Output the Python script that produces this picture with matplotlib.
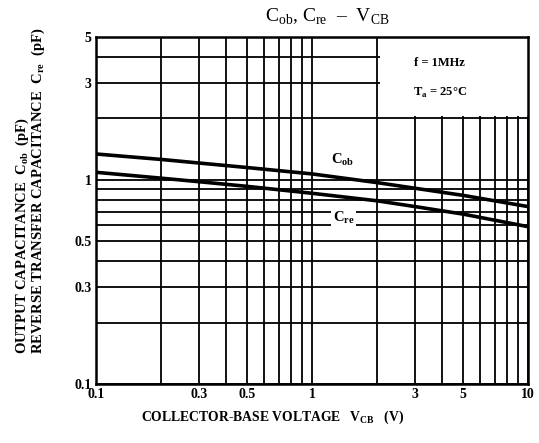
import matplotlib
matplotlib.use("Agg")
import matplotlib.pyplot as plt
from matplotlib.patches import Rectangle

# data
vcb = [0.1, 0.2, 0.3, 0.5, 1, 2, 3, 5, 10]
cob = [1.34, 1.26, 1.21, 1.15, 1.07, 0.97, 0.91, 0.84, 0.74]
cre = [1.09, 1.02, 0.98, 0.93, 0.86, 0.79, 0.74, 0.68, 0.59]

xticks = [0.1, 0.3, 0.5, 1, 3, 5, 10]
xticklabels = ["0.1", "0.3", "0.5", "1", "3", "5", "10"]
yticks = [0.1, 0.3, 0.5, 1, 3, 5]
yticklabels = ["0.1", "0.3", "0.5", "1", "3", "5"]

plt.rcParams["font.family"] = "Liberation Serif"
plt.rcParams["mathtext.fontset"] = "custom"
plt.rcParams["mathtext.rm"] = "Liberation Serif"
plt.rcParams["mathtext.bf"] = "Liberation Serif:bold"

fig = plt.figure(figsize=(5.39, 4.43), dpi=100)
ax = fig.add_axes([0.178, 0.133, 0.802, 0.783])

ax.set_xscale("log")
ax.set_yscale("log")
ax.set_xlim(0.1, 10)
ax.set_ylim(0.1, 5)

ax.set_axisbelow(True)
ax.grid(which="both", color="black", linewidth=1.3)
# blank area for the conditions box
ax.add_patch(Rectangle((2.06, 2.06), 10 - 2.06, 5 - 2.06, facecolor="white",
                       edgecolor="none", zorder=1))

ax.plot(vcb, cob, color="black", linewidth=2.6, zorder=3)
ax.plot(vcb, cre, color="black", linewidth=2.6, zorder=3)

ax.text(1.38, 1.25, r"C$_{\mathbf{ob}}$", fontsize=10.5, fontweight="bold",
        ha="center", va="center", zorder=4)
ax.text(1.4, 0.655, r"C$_{\mathbf{re}}$", fontsize=10.5, fontweight="bold",
        ha="center", va="center", zorder=4,
        bbox=dict(facecolor="white", edgecolor="none", pad=1.5))

ax.text(3.9, 3.75, "f = 1MHz", fontsize=9, fontweight="bold",
        ha="center", va="center")
ax.text(3.9, 2.66, r"T$_{\mathbf{a}}$ = 25°C", fontsize=9, fontweight="bold",
        ha="center", va="center")

ax.set_xticks(xticks)
ax.set_xticklabels(xticklabels)
ax.set_yticks(yticks)
ax.set_yticklabels(yticklabels)
ax.tick_params(which="both", length=0, labelsize=10, pad=3)
for lab in ax.get_xticklabels() + ax.get_yticklabels():
    lab.set_fontweight("bold")
for s in ax.spines.values():
    s.set_linewidth(1.8)

fig.text(0.608, 0.962, r"C$_{\mathrm{ob}}$, C$_{\mathrm{re}}$  –  V$_{\mathrm{CB}}$",
         fontsize=14, ha="center", va="center")
fig.text(0.505, 0.057, r"COLLECTOR-BASE VOLTAGE   V$_{\mathbf{CB}}$   (V)",
         fontsize=9.8, fontweight="bold", ha="center", va="center")
fig.text(0.041, 0.2, r"OUTPUT CAPACITANCE  C$_{\mathbf{ob}}$  (pF)",
         fontsize=10.5, fontweight="bold", rotation=90, ha="center", va="bottom")
fig.text(0.071, 0.2, r"REVERSE TRANSFER CAPACITANCE  C$_{\mathbf{re}}$  (pF)",
         fontsize=10.5, fontweight="bold", rotation=90, ha="center", va="bottom")

fig.savefig("out.png", dpi=100)
